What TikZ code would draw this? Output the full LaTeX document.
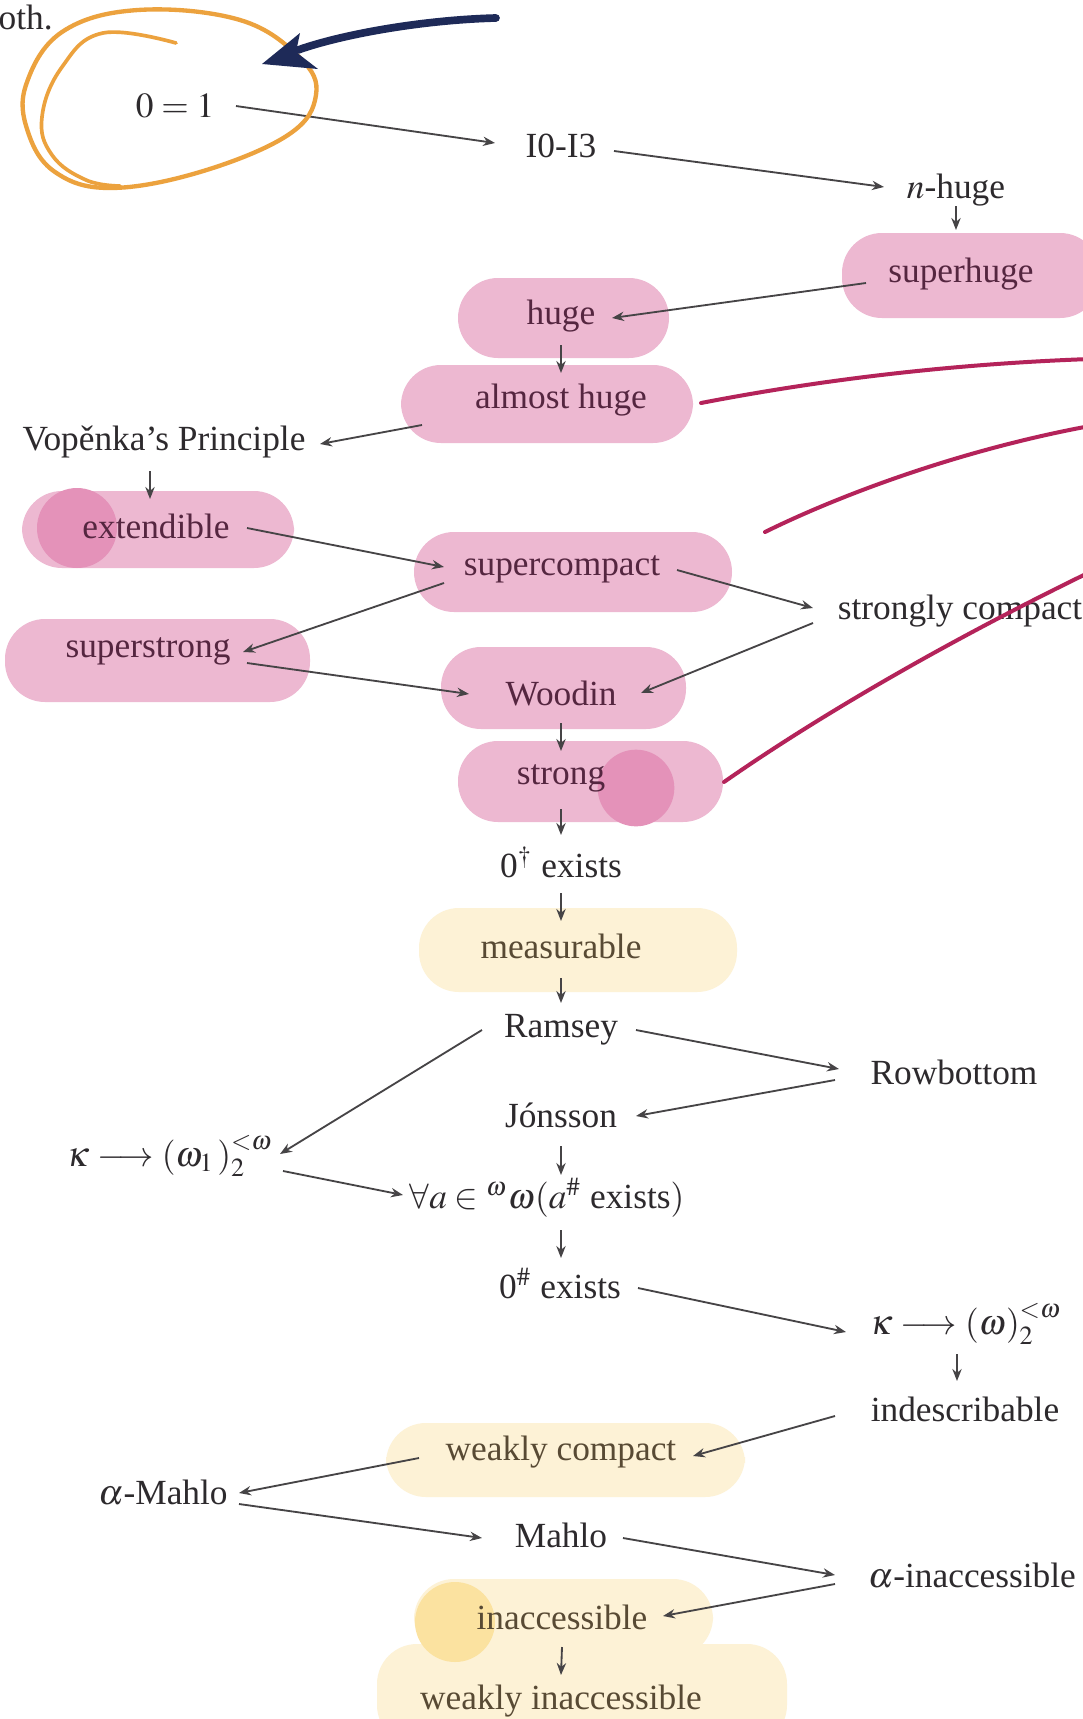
\documentclass[tikz,border=0pt]{standalone}
\usepackage{mathptmx}
\usepackage{fontspec}
\setmainfont{Liberation Serif}
\usetikzlibrary{arrows.meta}
\definecolor{hlpink}{RGB}{237,184,209}
\definecolor{hlpinkdk}{RGB}{228,146,185}
\definecolor{hlyel}{RGB}{253,242,214}
\definecolor{hlyeldk}{RGB}{251,226,160}
\definecolor{inkc}{RGB}{45,42,45}
\definecolor{inkp}{RGB}{85,38,64}
\definecolor{inky}{RGB}{88,74,52}
\definecolor{arrc}{RGB}{70,68,70}
\definecolor{magc}{RGB}{180,35,90}
\definecolor{orc}{RGB}{236,162,62}
\definecolor{navyc}{RGB}{30,42,88}
\newcommand{\upsc}[1]{^{\raisebox{1.2pt}{$\scriptstyle #1$}}}
\begin{document}
\begin{tikzpicture}[x=0.3pt,y=-0.3pt,
  every node/.style={inner sep=0pt, font=\fontsize{10.6}{12.5}\selectfont, text=inkc},
  onpink/.style={text=inkp}, onyel/.style={text=inky},
  imp/.style={draw=arrc, line width=0.55pt, -{Stealth[length=3.6pt,width=2.8pt]}},
  hlp/.style={fill=hlpink, rounded corners=12pt},
  hly/.style={fill=hlyel, rounded corners=12pt},
  mline/.style={draw=magc, line width=1.2pt, line cap=round},
]
\useasboundingbox (0,0) rectangle (1083,1719);
\clip (0,0) rectangle (1083,1719);
\fill[white] (0,0) rectangle (1083,1719);

% highlighter marks
\fill[hlp] (842,233) rectangle (1100,318);
\fill[hlp] (458,278) rectangle (669,358);
\fill[hlp] (401,365) rectangle (693,443);
\fill[hlp] (22,491) rectangle (294,568);
\fill[hlpinkdk] (77,528) circle[radius=12pt];
\fill[hlp] (414,532) rectangle (732,612);
\fill[hlp] (5,619) rectangle (310,702);
\fill[hlp] (441,647) rectangle (686,729);
\fill[hlp] (458,741) rectangle (723,822);
\fill[hlpinkdk] (636,788) circle[radius=11.5pt];
\fill[hly] (419,908) rectangle (737,992);
\fill[hly] (386,1423) rectangle (745,1497);
\fill[hly] (377,1644) rectangle (787,1745);
\fill[hly] (414,1579) rectangle (713,1657);
\fill[hlyeldk] (455,1622) circle[radius=12pt];

% nodes
\node (oth) [anchor=west] at (-2,17) {oth.};
\node (eq) at (175,106) {$0=1$};
\node (i0) at (561,146) {I0-I3};
\node (nh) at (956,190) {$n$-huge};
\node[onpink] (sh) at (961,274) {superhuge};
\node[onpink] (hg) at (561,316) {huge};
\node[onpink] (ah) at (561,400) {almost huge};
\node (vp) at (164,442) {Vopěnka’s Principle};
\node[onpink] (ext) at (156,526) {extendible};
\node[onpink] (sc) at (562,569) {supercompact};
\node (stc) at (960,611) {strongly compact};
\node[onpink] (ss) at (148,651) {superstrong};
\node[onpink] (wd) at (561,693) {Woodin};
\node[onpink] (st) at (561,778) {strong};
\node (zd) at (561,862) {0$^{\dagger}$ exists};
\node[onyel] (ms) at (561,946) {measurable};
\node (rm) at (561,1030) {Ramsey};
\node (rb) at (954,1072) {Rowbottom};
\node (jn) at (561,1115) {Jónsson};
\node (k1) at (170,1156) {$\kappa\longrightarrow(\omega_1\mkern1.5mu)_2\upsc{<\omega}$};
\node (fa) at (547,1198) {$\forall a\in{}^{\omega}\omega(a^{\#}$ exists$)$};
\node (zs) at (560,1283) {0$^{\#}$ exists};
\node (k2) at (966,1324) {$\kappa\longrightarrow(\omega)_2\upsc{<\omega}$};
\node (ind) at (965,1409) {indescribable};
\node[onyel] (wc) at (561,1452) {weakly compact};
\node (am) at (163,1493) {$\alpha$-Mahlo};
\node (mh) at (561,1535) {Mahlo};
\node (ai) at (972,1576) {$\alpha$-inaccessible};
\node[onyel] (ia) at (562,1617) {inaccessible};
\node[onyel] (wi) at (561,1701) {weakly inaccessible};

% implications
\draw[imp] ([shift={(61,0)}]eq.center) -- ([shift={(-66,-3)}]i0.center);
\draw[imp] ([shift={(53,5)}]i0.center) -- ([shift={(-72,-3)}]nh.center);
\draw[imp] ([shift={(0,16)}]nh.center) -- ([shift={(-5,-44)}]sh.center);
\draw[imp] ([shift={(-95,9)}]sh.center) -- ([shift={(51,2)}]hg.center);
\draw[imp] ([shift={(0,29)}]hg.center) -- ([shift={(0,-27)}]ah.center);
\draw[imp] ([shift={(-139,25)}]ah.center) -- ([shift={(156,2)}]vp.center);
\draw[imp] ([shift={(-14,29)}]vp.center) -- ([shift={(-6,-27)}]ext.center);
\draw[imp] ([shift={(91,2)}]ext.center) -- ([shift={(-118,-2)}]sc.center);
\draw[imp] ([shift={(115,1)}]sc.center) -- ([shift={(-147,-3)}]stc.center);
\draw[imp] ([shift={(-118,14)}]sc.center) -- ([shift={(95,1)}]ss.center);
\draw[imp] ([shift={(99,12)}]ss.center) -- ([shift={(-92,1)}]wd.center);
\draw[imp] ([shift={(-147,12)}]stc.center) -- ([shift={(80,0)}]wd.center);
\draw[imp] ([shift={(0,30)}]wd.center) -- ([shift={(0,-27)}]st.center);
\draw[imp] ([shift={(0,31)}]st.center) -- ([shift={(0,-27)}]zd.center);
\draw[imp] ([shift={(0,31)}]zd.center) -- ([shift={(0,-25)}]ms.center);
\draw[imp] ([shift={(0,32)}]ms.center) -- ([shift={(0,-27)}]rm.center);
\draw[imp] ([shift={(75,0)}]rm.center) -- ([shift={(-115,-3)}]rb.center);
\draw[imp] ([shift={(-79,0)}]rm.center) -- ([shift={(110,-2)}]k1.center);
\draw[imp] ([shift={(-119,8)}]rb.center) -- ([shift={(75,1)}]jn.center);
\draw[imp] ([shift={(0,31)}]jn.center) -- ([shift={(14,-23)}]fa.center);
\draw[imp] ([shift={(113,15)}]k1.center) -- ([shift={(-144,-3)}]fa.center);
\draw[imp] ([shift={(14,32)}]fa.center) -- ([shift={(1,-25)}]zs.center);
\draw[imp] ([shift={(78,5)}]zs.center) -- ([shift={(-120,8)}]k2.center);
\draw[imp] ([shift={(-9,30)}]k2.center) -- ([shift={(-8,-28)}]ind.center);
\draw[imp] ([shift={(-130,7)}]ind.center) -- ([shift={(132,4)}]wc.center);
\draw[imp] ([shift={(-142,6)}]wc.center) -- ([shift={(76,0)}]am.center);
\draw[imp] ([shift={(76,11)}]am.center) -- ([shift={(-79,3)}]mh.center);
\draw[imp] ([shift={(62,3)}]mh.center) -- ([shift={(-137,-1)}]ai.center);
\draw[imp] ([shift={(-137,8)}]ai.center) -- ([shift={(101,-1)}]ia.center);
\draw[imp] ([shift={(0,30)}]ia.center) -- ([shift={(0,-26)}]wi.center);

% magenta annotation strokes
\coordinate (m1) at (1090,359);
\coordinate (m2) at (1090,426);
\coordinate (m3) at (1090,572);
\draw[mline] ([shift={(140,3)}]ah.center) .. controls (820,380) and (950,364) .. (m1);
\draw[mline] (765,532) .. controls (840,495) and (960,450) .. (m2);
\draw[mline] ([shift={(163,4)}]st.center) .. controls (820,715) and (950,640) .. (m3);

% orange loop around 0=1
\draw[orc, line width=1.3pt, line cap=round] plot[smooth cycle, tension=0.65] coordinates {(26,85) (62,32) (138,10) (240,20) (300,58) (316,95) (288,135) (200,172) (110,188) (55,172) (28,132)};
\draw[orc, line width=1.1pt, line cap=round] plot[smooth, tension=0.7] coordinates {(176,43) (103,33) (62,67) (42,117) (52,155) (86,180) (120,186)};

% navy arrow
\draw[navyc, line width=2.3pt, line cap=round] (496,18) .. controls (420,20) and (340,35) .. (298,50);
\fill[navyc] (262,64) -- (300,33) -- (296,52) -- (318,69) -- cycle;
\end{tikzpicture}
\end{document}
